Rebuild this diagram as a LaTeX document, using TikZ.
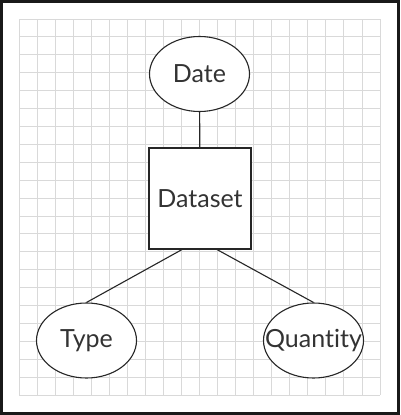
\documentclass[tikz,border=0pt]{standalone}
\usepackage{fontspec}
\setmainfont[Ligatures={NoCommon,NoContextual}]{Lato}
\usetikzlibrary{shapes.geometric}
\newcommand{\zw}[1]{\makebox[0pt]{#1}}
\begin{document}
\begin{tikzpicture}[x=1pt,y=-1pt,
  ent/.style={ellipse,draw=black!85,line width=1.1pt,fill=white,minimum width=100pt,minimum height=75pt,inner sep=0pt,text=black!80,font=\fontsize{25}{28}\selectfont},
  box/.style={rectangle,draw=black!85,line width=1.1pt,fill=white,minimum width=102pt,minimum height=101pt,inner sep=0pt,text=black!80,font=\fontsize{25}{28}\selectfont},
  link/.style={draw=black!85,line width=1.1pt},
  gridline/.style={draw=black!15,line width=0.9pt}]
\useasboundingbox (0,0) rectangle (400,415);
\fill[white] (0,0) rectangle (400,415);
\foreach \i in {0,...,20} {\draw[gridline] (19+18.05*\i,19) -- (19+18.05*\i,395);}
\foreach \j in {0,...,21} {\draw[gridline] (19,19+17.905*\j) -- (380,19+17.905*\j);}
\draw[line width=3pt,black!90] (1.5,1.5) rectangle (398.5,413.5);
\node[ent] (date) at (199.5,74) {\zw{Date}};
\node[box] (ds) at (200,198.5) {\zw{Dataset}};
\node[ent] (type) at (86.5,340.5) {\zw{Type}};
\node[ent] (qty) at (313.5,340.5) {\zw{Quant\kern0pt ity}};
\coordinate (dl) at (183,249);
\coordinate (dr) at (216,249);
\draw[link] (date) -- (ds);
\draw[link] (dl) -- (type.north);
\draw[link] (dr) -- (qty.north);
\end{tikzpicture}
\end{document}
